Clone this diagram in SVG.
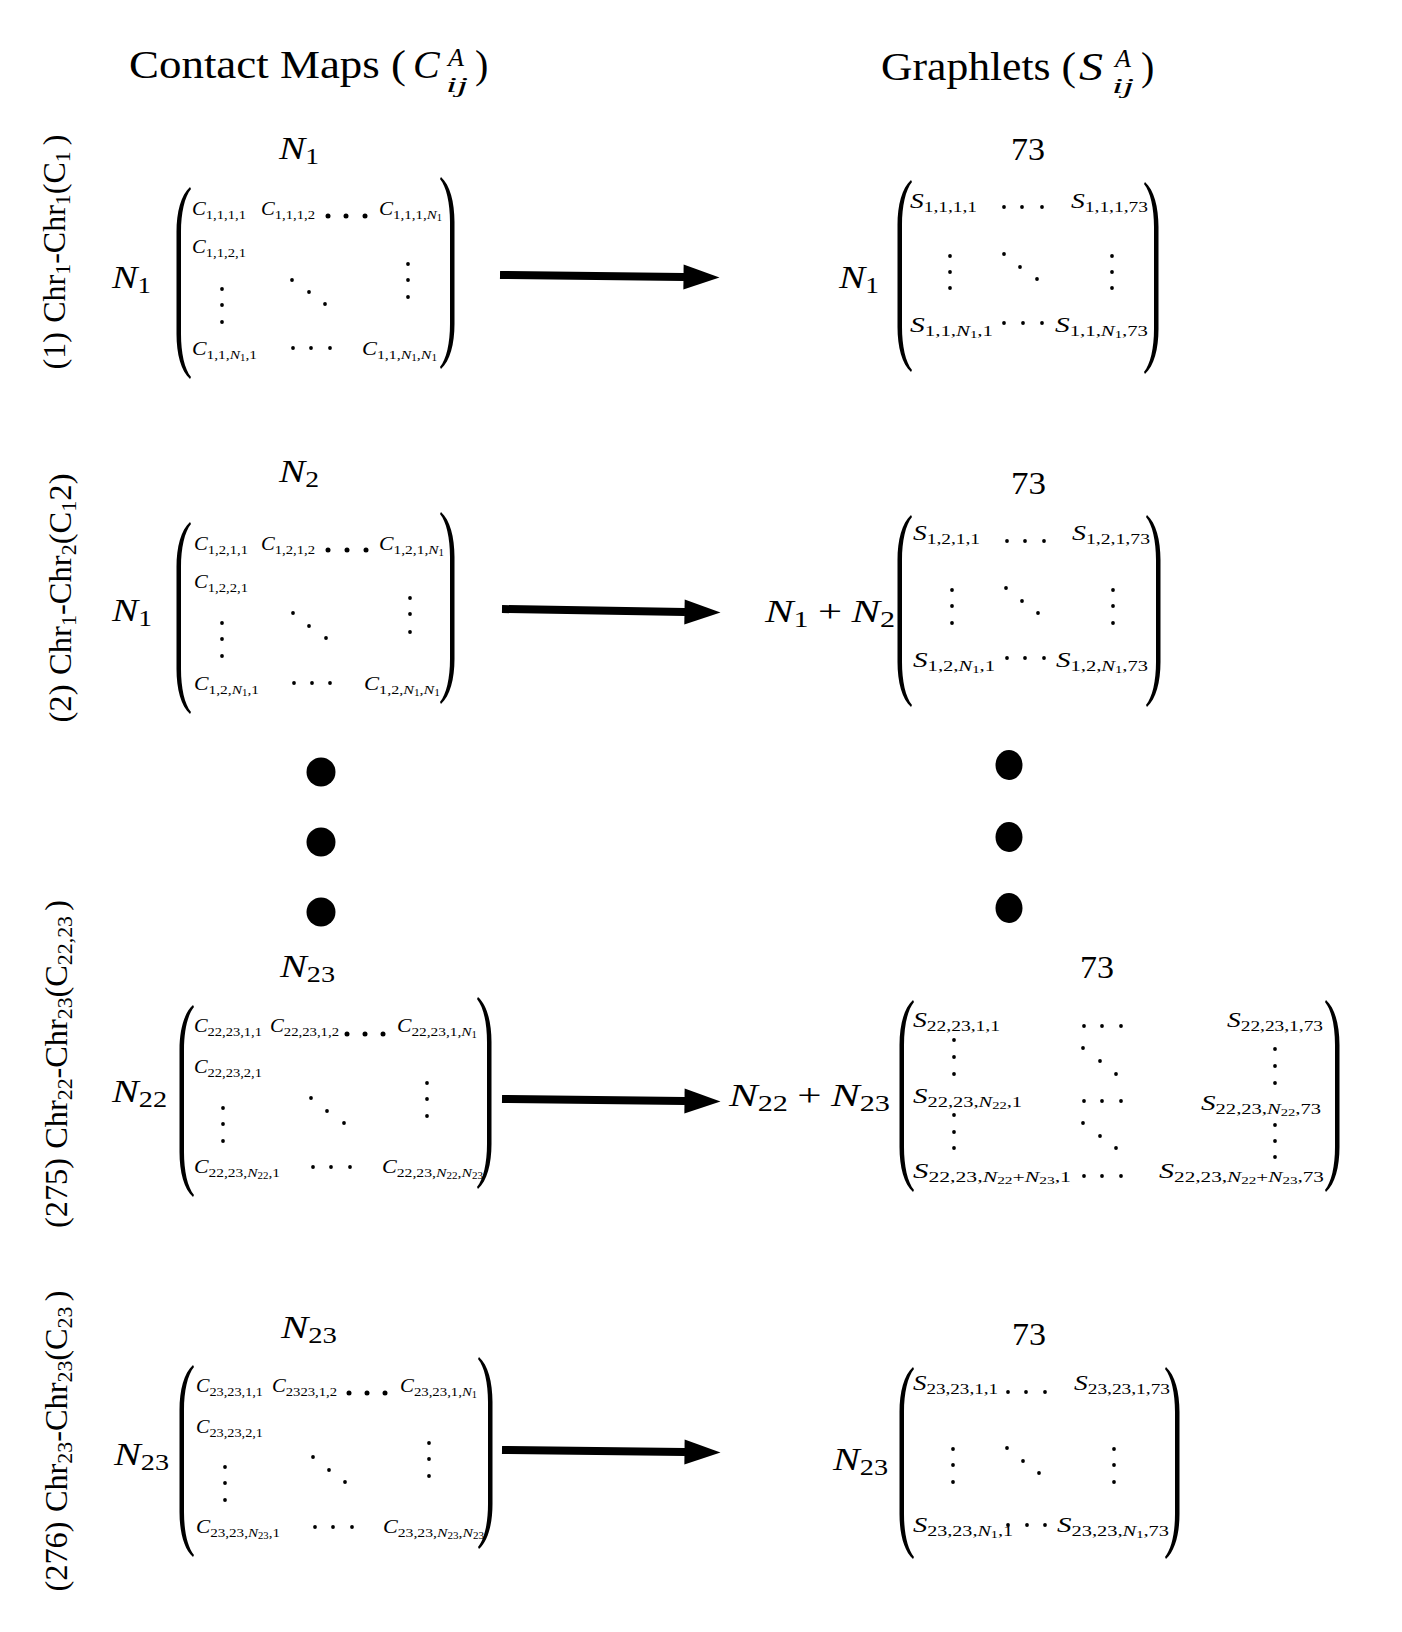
<svg xmlns="http://www.w3.org/2000/svg" xmlns:xlink="http://www.w3.org/1999/xlink" width="1402" height="1632" viewBox="0 0 1402 1632">
<style>
text { font-family: "Liberation Serif", "Times New Roman", serif; fill: #000; }
.it { font-style: italic; }
.up { font-style: normal; }
.tt { font-size: 40px; }
.tts { font-size: 22px; font-style: italic; }
.ttA { font-size: 26px; font-style: italic; }
.hd { font-size: 32px; }
.hs { font-size: 22.5px; font-style: normal; }
.vl { font-size: 31px; }
.vs { font-size: 21px; }
.ce { font-size: 19px; font-style: italic; }
.sb { font-size: 13.5px; font-style: normal; }
.sbi { font-style: italic; }
.ss { font-size: 9.5px; font-style: normal; }
.se { font-size: 22px; font-style: italic; }
.sb2 { font-size: 15.5px; font-style: normal; }
.ss2 { font-size: 11px; font-style: normal; }
.dots circle { fill: #000; }
.paren { fill: #000; }
.big { fill: #000; }
</style>
<defs>
  <!-- tall left parenthesis, 15 wide x 192 high; mirrored for the right one -->
  <path id="lp" d="M14,0 C5,8 0.5,25 0.5,45 L0.5,147 C0.5,167 5,184 14,192 L15,190 C8.5,182 5,166 5,147 L5,45 C5,26 8.5,10 15,2 Z"/>
  <marker id="ah" markerUnits="userSpaceOnUse" markerWidth="37" markerHeight="26" refX="0.5" refY="12.5" orient="auto" overflow="visible">
    <path d="M0,0 L36,12.5 L0,25 Z" fill="#000"/>
  </marker>
</defs>
<rect width="1402" height="1632" fill="#fff"/>

<!-- column titles -->
<g id="title-contact">
  <text class="tt" x="129" y="78" textLength="277" lengthAdjust="spacingAndGlyphs">Contact Maps (</text>
  <text class="tt it" x="413" y="78">C</text>
  <text class="ttA" x="448" y="66">A</text>
  <text class="tts" x="446" y="92" textLength="22" lengthAdjust="spacingAndGlyphs">ij</text>
  <text class="tt" x="475" y="78">)</text>
</g>
<g id="title-graphlets">
  <text class="tt" x="881" y="80" textLength="195" lengthAdjust="spacingAndGlyphs">Graphlets (</text>
  <text class="tt it" x="1079" y="80" textLength="24" lengthAdjust="spacingAndGlyphs">S</text>
  <text class="ttA" x="1115" y="67">A</text>
  <text class="tts" x="1112" y="93" textLength="22" lengthAdjust="spacingAndGlyphs">ij</text>
  <text class="tt" x="1141" y="80">)</text>
</g>

<!-- row labels, rotated -->
<g id="label-1">
  <text class="vl" text-anchor="middle" transform="translate(65,252) rotate(-90)" textLength="235" lengthAdjust="spacingAndGlyphs">(1)<tspan dx="9">Chr</tspan><tspan class="vs" baseline-shift="-5">1</tspan>-Chr<tspan class="vs" baseline-shift="-5">1</tspan>(C<tspan class="vs" baseline-shift="-5">1</tspan><tspan dx="6">)</tspan></text>
</g>
<g id="label-2">
  <text class="vl" text-anchor="middle" transform="translate(71,598) rotate(-90)" textLength="249" lengthAdjust="spacingAndGlyphs">(2)<tspan dx="9">Chr</tspan><tspan class="vs" baseline-shift="-5">1</tspan>-Chr<tspan class="vs" baseline-shift="-5">2</tspan>(C<tspan class="vs" baseline-shift="-5">1</tspan>2)</text>
</g>
<g id="label-275">
  <text class="vl" text-anchor="middle" transform="translate(67,1064) rotate(-90)" textLength="328" lengthAdjust="spacingAndGlyphs">(275)<tspan dx="9">Chr</tspan><tspan class="vs" baseline-shift="-5">22</tspan>-Chr<tspan class="vs" baseline-shift="-5">23</tspan>(C<tspan class="vs" baseline-shift="-5">22,23</tspan><tspan dx="5">)</tspan></text>
</g>
<g id="label-276">
  <text class="vl" text-anchor="middle" transform="translate(67,1441) rotate(-90)" textLength="301" lengthAdjust="spacingAndGlyphs">(276)<tspan dx="9">Chr</tspan><tspan class="vs" baseline-shift="-5">23</tspan>-Chr<tspan class="vs" baseline-shift="-5">23</tspan>(C<tspan class="vs" baseline-shift="-5">23</tspan><tspan dx="5">)</tspan></text>
</g>

<!-- contact map 1 -->
<g id="contact-map-1">
  <text class="hd it" x="279" y="159" textLength="40" lengthAdjust="spacingAndGlyphs">N<tspan class="hs" baseline-shift="-5">1</tspan></text>
  <text class="hd it" x="112" y="288" textLength="39" lengthAdjust="spacingAndGlyphs">N<tspan class="hs" baseline-shift="-5">1</tspan></text>
  <use xlink:href="#lp" class="paren" transform="translate(176,187)"/>
  <use xlink:href="#lp" class="paren" transform="translate(455,177) scale(-1,1)"/>
  <text class="ce" x="192" y="215" textLength="54" lengthAdjust="spacingAndGlyphs">C<tspan class="sb" baseline-shift="-3.5">1,1,1,1</tspan></text>
  <text class="ce" x="261" y="215" textLength="54" lengthAdjust="spacingAndGlyphs">C<tspan class="sb" baseline-shift="-3.5">1,1,1,2</tspan></text>
  <text class="ce" x="379" y="215" textLength="63" lengthAdjust="spacingAndGlyphs">C<tspan class="sb" baseline-shift="-3.5">1,1,1,<tspan class="sbi">N</tspan><tspan class="ss" baseline-shift="-2">1</tspan></tspan></text>
  <text class="ce" x="192" y="253" textLength="54" lengthAdjust="spacingAndGlyphs">C<tspan class="sb" baseline-shift="-3.5">1,1,2,1</tspan></text>
  <text class="ce" x="192" y="355" textLength="65" lengthAdjust="spacingAndGlyphs">C<tspan class="sb" baseline-shift="-3.5">1,1,<tspan class="sbi">N</tspan><tspan class="ss" baseline-shift="-2">1</tspan>,1</tspan></text>
  <text class="ce" x="362" y="355" textLength="75" lengthAdjust="spacingAndGlyphs">C<tspan class="sb" baseline-shift="-3.5">1,1,<tspan class="sbi">N</tspan><tspan class="ss" baseline-shift="-2">1</tspan>,<tspan class="sbi">N</tspan><tspan class="ss" baseline-shift="-2">1</tspan></tspan></text>
  <g class="dots">
    <circle cx="328" cy="216" r="2.5"/><circle cx="346" cy="216" r="2.5"/><circle cx="365" cy="216" r="2.5"/>
    <circle cx="222" cy="289" r="1.9"/><circle cx="222" cy="305" r="1.9"/><circle cx="222" cy="322" r="1.9"/>
    <circle cx="292" cy="280" r="1.9"/><circle cx="309" cy="292" r="1.9"/><circle cx="325" cy="304" r="1.9"/>
    <circle cx="408" cy="264" r="1.9"/><circle cx="408" cy="280" r="1.9"/><circle cx="408" cy="297" r="1.9"/>
    <circle cx="293" cy="348" r="1.9"/><circle cx="311" cy="348" r="1.9"/><circle cx="330" cy="348" r="1.9"/>
  </g>
</g>

<!-- graphlet matrix 1 -->
<g id="graphlets-1">
  <text class="hd" x="1011" y="160" textLength="34" lengthAdjust="spacingAndGlyphs">73</text>
  <text class="hd it" x="839" y="288" textLength="40" lengthAdjust="spacingAndGlyphs">N<tspan class="hs" baseline-shift="-5">1</tspan></text>
  <use xlink:href="#lp" class="paren" transform="translate(897,180)"/>
  <use xlink:href="#lp" class="paren" transform="translate(1159,182) scale(-1,1)"/>
  <text class="se" x="910" y="208" textLength="67" lengthAdjust="spacingAndGlyphs">S<tspan class="sb2" baseline-shift="-4">1,1,1,1</tspan></text>
  <text class="se" x="1071" y="208" textLength="77" lengthAdjust="spacingAndGlyphs">S<tspan class="sb2" baseline-shift="-4">1,1,1,73</tspan></text>
  <text class="se" x="910" y="332" textLength="83" lengthAdjust="spacingAndGlyphs">S<tspan class="sb2" baseline-shift="-4">1,1,<tspan class="sbi">N</tspan><tspan class="ss2" baseline-shift="-2">1</tspan>,1</tspan></text>
  <text class="se" x="1055" y="332" textLength="93" lengthAdjust="spacingAndGlyphs">S<tspan class="sb2" baseline-shift="-4">1,1,<tspan class="sbi">N</tspan><tspan class="ss2" baseline-shift="-2">1</tspan>,73</tspan></text>
  <g class="dots">
    <circle cx="1004" cy="207" r="1.9"/><circle cx="1022" cy="207" r="1.9"/><circle cx="1042" cy="207" r="1.9"/>
    <circle cx="950" cy="256" r="1.9"/><circle cx="950" cy="272" r="1.9"/><circle cx="950" cy="288" r="1.9"/>
    <circle cx="1004" cy="254" r="1.9"/><circle cx="1020" cy="267" r="1.9"/><circle cx="1037" cy="279" r="1.9"/>
    <circle cx="1112" cy="256" r="1.9"/><circle cx="1112" cy="272" r="1.9"/><circle cx="1112" cy="288" r="1.9"/>
    <circle cx="1004" cy="323" r="1.9"/><circle cx="1023" cy="323" r="1.9"/><circle cx="1042" cy="323" r="1.9"/>
  </g>
</g>

<!-- contact map 2 -->
<g id="contact-map-2">
  <text class="hd it" x="279" y="482" textLength="40" lengthAdjust="spacingAndGlyphs">N<tspan class="hs" baseline-shift="-5">2</tspan></text>
  <text class="hd it" x="112" y="621" textLength="40" lengthAdjust="spacingAndGlyphs">N<tspan class="hs" baseline-shift="-5">1</tspan></text>
  <use xlink:href="#lp" class="paren" transform="translate(176,522)"/>
  <use xlink:href="#lp" class="paren" transform="translate(455,512) scale(-1,1)"/>
  <text class="ce" x="194" y="550" textLength="54" lengthAdjust="spacingAndGlyphs">C<tspan class="sb" baseline-shift="-3.5">1,2,1,1</tspan></text>
  <text class="ce" x="261" y="550" textLength="54" lengthAdjust="spacingAndGlyphs">C<tspan class="sb" baseline-shift="-3.5">1,2,1,2</tspan></text>
  <text class="ce" x="379" y="550" textLength="65" lengthAdjust="spacingAndGlyphs">C<tspan class="sb" baseline-shift="-3.5">1,2,1,<tspan class="sbi">N</tspan><tspan class="ss" baseline-shift="-2">1</tspan></tspan></text>
  <text class="ce" x="194" y="588" textLength="54" lengthAdjust="spacingAndGlyphs">C<tspan class="sb" baseline-shift="-3.5">1,2,2,1</tspan></text>
  <text class="ce" x="194" y="690" textLength="65" lengthAdjust="spacingAndGlyphs">C<tspan class="sb" baseline-shift="-3.5">1,2,<tspan class="sbi">N</tspan><tspan class="ss" baseline-shift="-2">1</tspan>,1</tspan></text>
  <text class="ce" x="364" y="690" textLength="76" lengthAdjust="spacingAndGlyphs">C<tspan class="sb" baseline-shift="-3.5">1,2,<tspan class="sbi">N</tspan><tspan class="ss" baseline-shift="-2">1</tspan>,<tspan class="sbi">N</tspan><tspan class="ss" baseline-shift="-2">1</tspan></tspan></text>
  <g class="dots">
    <circle cx="328" cy="550" r="2.5"/><circle cx="347" cy="550" r="2.5"/><circle cx="366" cy="550" r="2.5"/>
    <circle cx="222" cy="623" r="1.9"/><circle cx="222" cy="639" r="1.9"/><circle cx="222" cy="656" r="1.9"/>
    <circle cx="293" cy="613" r="1.9"/><circle cx="309" cy="626" r="1.9"/><circle cx="326" cy="638" r="1.9"/>
    <circle cx="410" cy="598" r="1.9"/><circle cx="410" cy="614" r="1.9"/><circle cx="410" cy="632" r="1.9"/>
    <circle cx="294" cy="683" r="1.9"/><circle cx="312" cy="683" r="1.9"/><circle cx="330" cy="683" r="1.9"/>
  </g>
</g>

<!-- graphlet matrix 2 -->
<g id="graphlets-2">
  <text class="hd" x="1011" y="494" textLength="35" lengthAdjust="spacingAndGlyphs">73</text>
  <text class="hd it" x="765" y="622" textLength="130" lengthAdjust="spacingAndGlyphs">N<tspan class="hs" baseline-shift="-5">1</tspan><tspan class="up" dx="7">+</tspan><tspan dx="7">N</tspan><tspan class="hs" baseline-shift="-5">2</tspan></text>
  <use xlink:href="#lp" class="paren" transform="translate(897,515)"/>
  <use xlink:href="#lp" class="paren" transform="translate(1161,515) scale(-1,1)"/>
  <text class="se" x="913" y="540" textLength="67" lengthAdjust="spacingAndGlyphs">S<tspan class="sb2" baseline-shift="-4">1,2,1,1</tspan></text>
  <text class="se" x="1072" y="540" textLength="78" lengthAdjust="spacingAndGlyphs">S<tspan class="sb2" baseline-shift="-4">1,2,1,73</tspan></text>
  <text class="se" x="913" y="667" textLength="82" lengthAdjust="spacingAndGlyphs">S<tspan class="sb2" baseline-shift="-4">1,2,<tspan class="sbi">N</tspan><tspan class="ss2" baseline-shift="-2">1</tspan>,1</tspan></text>
  <text class="se" x="1056" y="667" textLength="92" lengthAdjust="spacingAndGlyphs">S<tspan class="sb2" baseline-shift="-4">1,2,<tspan class="sbi">N</tspan><tspan class="ss2" baseline-shift="-2">1</tspan>,73</tspan></text>
  <g class="dots">
    <circle cx="1007" cy="541" r="1.9"/><circle cx="1025" cy="541" r="1.9"/><circle cx="1044" cy="541" r="1.9"/>
    <circle cx="952" cy="590" r="1.9"/><circle cx="952" cy="606" r="1.9"/><circle cx="952" cy="623" r="1.9"/>
    <circle cx="1006" cy="588" r="1.9"/><circle cx="1022" cy="601" r="1.9"/><circle cx="1038" cy="613" r="1.9"/>
    <circle cx="1113" cy="590" r="1.9"/><circle cx="1113" cy="606" r="1.9"/><circle cx="1113" cy="623" r="1.9"/>
    <circle cx="1007" cy="658" r="1.9"/><circle cx="1025" cy="658" r="1.9"/><circle cx="1044" cy="658" r="1.9"/>
  </g>
</g>

<!-- elided rows -->
<g id="ellipsis-left">
  <circle class="big" cx="321" cy="772" r="14.5"/>
  <circle class="big" cx="321" cy="842" r="14.5"/>
  <circle class="big" cx="321" cy="912" r="14.5"/>
</g>
<g id="ellipsis-right">
  <ellipse class="big" cx="1009" cy="765" rx="13.5" ry="15"/>
  <ellipse class="big" cx="1009" cy="837" rx="13.5" ry="15"/>
  <ellipse class="big" cx="1009" cy="908" rx="13.5" ry="15"/>
</g>

<!-- contact map 275 -->
<g id="contact-map-275">
  <text class="hd it" x="280" y="977" textLength="55" lengthAdjust="spacingAndGlyphs">N<tspan class="hs" baseline-shift="-5">23</tspan></text>
  <text class="hd it" x="112" y="1102" textLength="55" lengthAdjust="spacingAndGlyphs">N<tspan class="hs" baseline-shift="-5">22</tspan></text>
  <use xlink:href="#lp" class="paren" transform="translate(179,1005)"/>
  <use xlink:href="#lp" class="paren" transform="translate(492,997) scale(-1,1)"/>
  <text class="ce" x="194" y="1032" textLength="68" lengthAdjust="spacingAndGlyphs">C<tspan class="sb" baseline-shift="-3.5">22,23,1,1</tspan></text>
  <text class="ce" x="270" y="1032" textLength="69" lengthAdjust="spacingAndGlyphs">C<tspan class="sb" baseline-shift="-3.5">22,23,1,2</tspan></text>
  <text class="ce" x="397" y="1032" textLength="80" lengthAdjust="spacingAndGlyphs">C<tspan class="sb" baseline-shift="-3.5">22,23,1,<tspan class="sbi">N</tspan><tspan class="ss" baseline-shift="-2">1</tspan></tspan></text>
  <text class="ce" x="194" y="1073" textLength="68" lengthAdjust="spacingAndGlyphs">C<tspan class="sb" baseline-shift="-3.5">22,23,2,1</tspan></text>
  <text class="ce" x="194" y="1173" textLength="86" lengthAdjust="spacingAndGlyphs">C<tspan class="sb" baseline-shift="-3.5">22,23,<tspan class="sbi">N</tspan><tspan class="ss" baseline-shift="-2">22</tspan>,1</tspan></text>
  <text class="ce" x="382" y="1173" textLength="101" lengthAdjust="spacingAndGlyphs">C<tspan class="sb" baseline-shift="-3.5">22,23,<tspan class="sbi">N</tspan><tspan class="ss" baseline-shift="-2">22</tspan>,<tspan class="sbi">N</tspan><tspan class="ss" baseline-shift="-2">23</tspan></tspan></text>
  <g class="dots">
    <circle cx="347" cy="1034" r="2.5"/><circle cx="365" cy="1034" r="2.5"/><circle cx="383" cy="1034" r="2.5"/>
    <circle cx="223" cy="1108" r="1.9"/><circle cx="223" cy="1124" r="1.9"/><circle cx="223" cy="1141" r="1.9"/>
    <circle cx="311" cy="1098" r="1.9"/><circle cx="327" cy="1111" r="1.9"/><circle cx="344" cy="1123" r="1.9"/>
    <circle cx="427" cy="1083" r="1.9"/><circle cx="427" cy="1099" r="1.9"/><circle cx="427" cy="1116" r="1.9"/>
    <circle cx="313" cy="1167" r="1.9"/><circle cx="331" cy="1167" r="1.9"/><circle cx="350" cy="1167" r="1.9"/>
  </g>
</g>

<!-- graphlet matrix 275 -->
<g id="graphlets-275">
  <text class="hd" x="1080" y="978" textLength="34" lengthAdjust="spacingAndGlyphs">73</text>
  <text class="hd it" x="729" y="1106" textLength="161" lengthAdjust="spacingAndGlyphs">N<tspan class="hs" baseline-shift="-5">22</tspan><tspan class="up" dx="7">+</tspan><tspan dx="7">N</tspan><tspan class="hs" baseline-shift="-5">23</tspan></text>
  <use xlink:href="#lp" class="paren" transform="translate(899,1000)"/>
  <use xlink:href="#lp" class="paren" transform="translate(1340,1000) scale(-1,1)"/>
  <text class="se" x="913" y="1027" textLength="87" lengthAdjust="spacingAndGlyphs">S<tspan class="sb2" baseline-shift="-4">22,23,1,1</tspan></text>
  <text class="se" x="1227" y="1027" textLength="96" lengthAdjust="spacingAndGlyphs">S<tspan class="sb2" baseline-shift="-4">22,23,1,73</tspan></text>
  <text class="se" x="913" y="1103" textLength="109" lengthAdjust="spacingAndGlyphs">S<tspan class="sb2" baseline-shift="-4">22,23,<tspan class="sbi">N</tspan><tspan class="ss2" baseline-shift="-2">22</tspan>,1</tspan></text>
  <text class="se" x="1201" y="1110" textLength="120" lengthAdjust="spacingAndGlyphs">S<tspan class="sb2" baseline-shift="-4">22,23,<tspan class="sbi">N</tspan><tspan class="ss2" baseline-shift="-2">22</tspan>,73</tspan></text>
  <text class="se" x="913" y="1178" textLength="158" lengthAdjust="spacingAndGlyphs">S<tspan class="sb2" baseline-shift="-4">22,23,<tspan class="sbi">N</tspan><tspan class="ss2" baseline-shift="-2">22</tspan>+<tspan class="sbi">N</tspan><tspan class="ss2" baseline-shift="-2">23</tspan>,1</tspan></text>
  <text class="se" x="1159" y="1178" textLength="165" lengthAdjust="spacingAndGlyphs">S<tspan class="sb2" baseline-shift="-4">22,23,<tspan class="sbi">N</tspan><tspan class="ss2" baseline-shift="-2">22</tspan>+<tspan class="sbi">N</tspan><tspan class="ss2" baseline-shift="-2">23</tspan>,73</tspan></text>
  <g class="dots">
    <circle cx="1084" cy="1026" r="1.9"/><circle cx="1102" cy="1026" r="1.9"/><circle cx="1121" cy="1026" r="1.9"/>
    <circle cx="954" cy="1040" r="1.9"/><circle cx="954" cy="1057" r="1.9"/><circle cx="954" cy="1074" r="1.9"/>
    <circle cx="1083" cy="1048" r="1.9"/><circle cx="1100" cy="1061" r="1.9"/><circle cx="1116" cy="1074" r="1.9"/>
    <circle cx="1275" cy="1049" r="1.9"/><circle cx="1275" cy="1066" r="1.9"/><circle cx="1275" cy="1083" r="1.9"/>
    <circle cx="1084" cy="1101" r="1.9"/><circle cx="1102" cy="1101" r="1.9"/><circle cx="1121" cy="1101" r="1.9"/>
    <circle cx="954" cy="1115" r="1.9"/><circle cx="954" cy="1132" r="1.9"/><circle cx="954" cy="1148" r="1.9"/>
    <circle cx="1083" cy="1123" r="1.9"/><circle cx="1100" cy="1136" r="1.9"/><circle cx="1116" cy="1148" r="1.9"/>
    <circle cx="1275" cy="1125" r="1.9"/><circle cx="1275" cy="1141" r="1.9"/><circle cx="1275" cy="1157" r="1.9"/>
    <circle cx="1084" cy="1176" r="1.9"/><circle cx="1102" cy="1176" r="1.9"/><circle cx="1121" cy="1176" r="1.9"/>
  </g>
</g>

<!-- contact map 276 -->
<g id="contact-map-276">
  <text class="hd it" x="281" y="1338" textLength="56" lengthAdjust="spacingAndGlyphs">N<tspan class="hs" baseline-shift="-5">23</tspan></text>
  <text class="hd it" x="114" y="1465" textLength="55" lengthAdjust="spacingAndGlyphs">N<tspan class="hs" baseline-shift="-5">23</tspan></text>
  <use xlink:href="#lp" class="paren" transform="translate(179,1365)"/>
  <use xlink:href="#lp" class="paren" transform="translate(493,1357) scale(-1,1)"/>
  <text class="ce" x="196" y="1392" textLength="67" lengthAdjust="spacingAndGlyphs">C<tspan class="sb" baseline-shift="-3.5">23,23,1,1</tspan></text>
  <text class="ce" x="272" y="1392" textLength="65" lengthAdjust="spacingAndGlyphs">C<tspan class="sb" baseline-shift="-3.5">2323,1,2</tspan></text>
  <text class="ce" x="400" y="1392" textLength="77" lengthAdjust="spacingAndGlyphs">C<tspan class="sb" baseline-shift="-3.5">23,23,1,<tspan class="sbi">N</tspan><tspan class="ss" baseline-shift="-2">1</tspan></tspan></text>
  <text class="ce" x="196" y="1433" textLength="67" lengthAdjust="spacingAndGlyphs">C<tspan class="sb" baseline-shift="-3.5">23,23,2,1</tspan></text>
  <text class="ce" x="196" y="1533" textLength="84" lengthAdjust="spacingAndGlyphs">C<tspan class="sb" baseline-shift="-3.5">23,23,<tspan class="sbi">N</tspan><tspan class="ss" baseline-shift="-2">23</tspan>,1</tspan></text>
  <text class="ce" x="383" y="1533" textLength="101" lengthAdjust="spacingAndGlyphs">C<tspan class="sb" baseline-shift="-3.5">23,23,<tspan class="sbi">N</tspan><tspan class="ss" baseline-shift="-2">23</tspan>,<tspan class="sbi">N</tspan><tspan class="ss" baseline-shift="-2">23</tspan></tspan></text>
  <g class="dots">
    <circle cx="349" cy="1393" r="2.5"/><circle cx="367" cy="1393" r="2.5"/><circle cx="385" cy="1393" r="2.5"/>
    <circle cx="225" cy="1467" r="1.9"/><circle cx="225" cy="1483" r="1.9"/><circle cx="225" cy="1500" r="1.9"/>
    <circle cx="313" cy="1457" r="1.9"/><circle cx="329" cy="1470" r="1.9"/><circle cx="345" cy="1482" r="1.9"/>
    <circle cx="429" cy="1443" r="1.9"/><circle cx="429" cy="1459" r="1.9"/><circle cx="429" cy="1476" r="1.9"/>
    <circle cx="315" cy="1527" r="1.9"/><circle cx="333" cy="1527" r="1.9"/><circle cx="352" cy="1527" r="1.9"/>
  </g>
</g>

<!-- graphlet matrix 276 -->
<g id="graphlets-276">
  <text class="hd" x="1012" y="1345" textLength="34" lengthAdjust="spacingAndGlyphs">73</text>
  <text class="hd it" x="833" y="1470" textLength="55" lengthAdjust="spacingAndGlyphs">N<tspan class="hs" baseline-shift="-5">23</tspan></text>
  <use xlink:href="#lp" class="paren" transform="translate(899,1367)"/>
  <use xlink:href="#lp" class="paren" transform="translate(1180,1367) scale(-1,1)"/>
  <text class="se" x="913" y="1390" textLength="85" lengthAdjust="spacingAndGlyphs">S<tspan class="sb2" baseline-shift="-4">23,23,1,1</tspan></text>
  <text class="se" x="1074" y="1390" textLength="96" lengthAdjust="spacingAndGlyphs">S<tspan class="sb2" baseline-shift="-4">23,23,1,73</tspan></text>
  <text class="se" x="913" y="1532" textLength="100" lengthAdjust="spacingAndGlyphs">S<tspan class="sb2" baseline-shift="-4">23,23,<tspan class="sbi">N</tspan><tspan class="ss2" baseline-shift="-2">1</tspan>,1</tspan></text>
  <text class="se" x="1057" y="1532" textLength="112" lengthAdjust="spacingAndGlyphs">S<tspan class="sb2" baseline-shift="-4">23,23,<tspan class="sbi">N</tspan><tspan class="ss2" baseline-shift="-2">1</tspan>,73</tspan></text>
  <g class="dots">
    <circle cx="1008" cy="1392" r="1.9"/><circle cx="1026" cy="1392" r="1.9"/><circle cx="1045" cy="1392" r="1.9"/>
    <circle cx="953" cy="1449" r="1.9"/><circle cx="953" cy="1465" r="1.9"/><circle cx="953" cy="1482" r="1.9"/>
    <circle cx="1007" cy="1448" r="1.9"/><circle cx="1023" cy="1461" r="1.9"/><circle cx="1039" cy="1473" r="1.9"/>
    <circle cx="1114" cy="1449" r="1.9"/><circle cx="1114" cy="1465" r="1.9"/><circle cx="1114" cy="1482" r="1.9"/>
    <circle cx="1008" cy="1525" r="1.9"/><circle cx="1027" cy="1525" r="1.9"/><circle cx="1045" cy="1525" r="1.9"/>
  </g>
</g>

<!-- transformation arrows -->
<g id="connectors" stroke="#000" stroke-width="8" fill="none">
  <line x1="500" y1="275" x2="684" y2="277" marker-end="url(#ah)"/>
  <line x1="502" y1="609" x2="685" y2="612" marker-end="url(#ah)"/>
  <line x1="502" y1="1099" x2="685" y2="1101" marker-end="url(#ah)"/>
  <line x1="502" y1="1450" x2="685" y2="1452" marker-end="url(#ah)"/>
</g>
</svg>
